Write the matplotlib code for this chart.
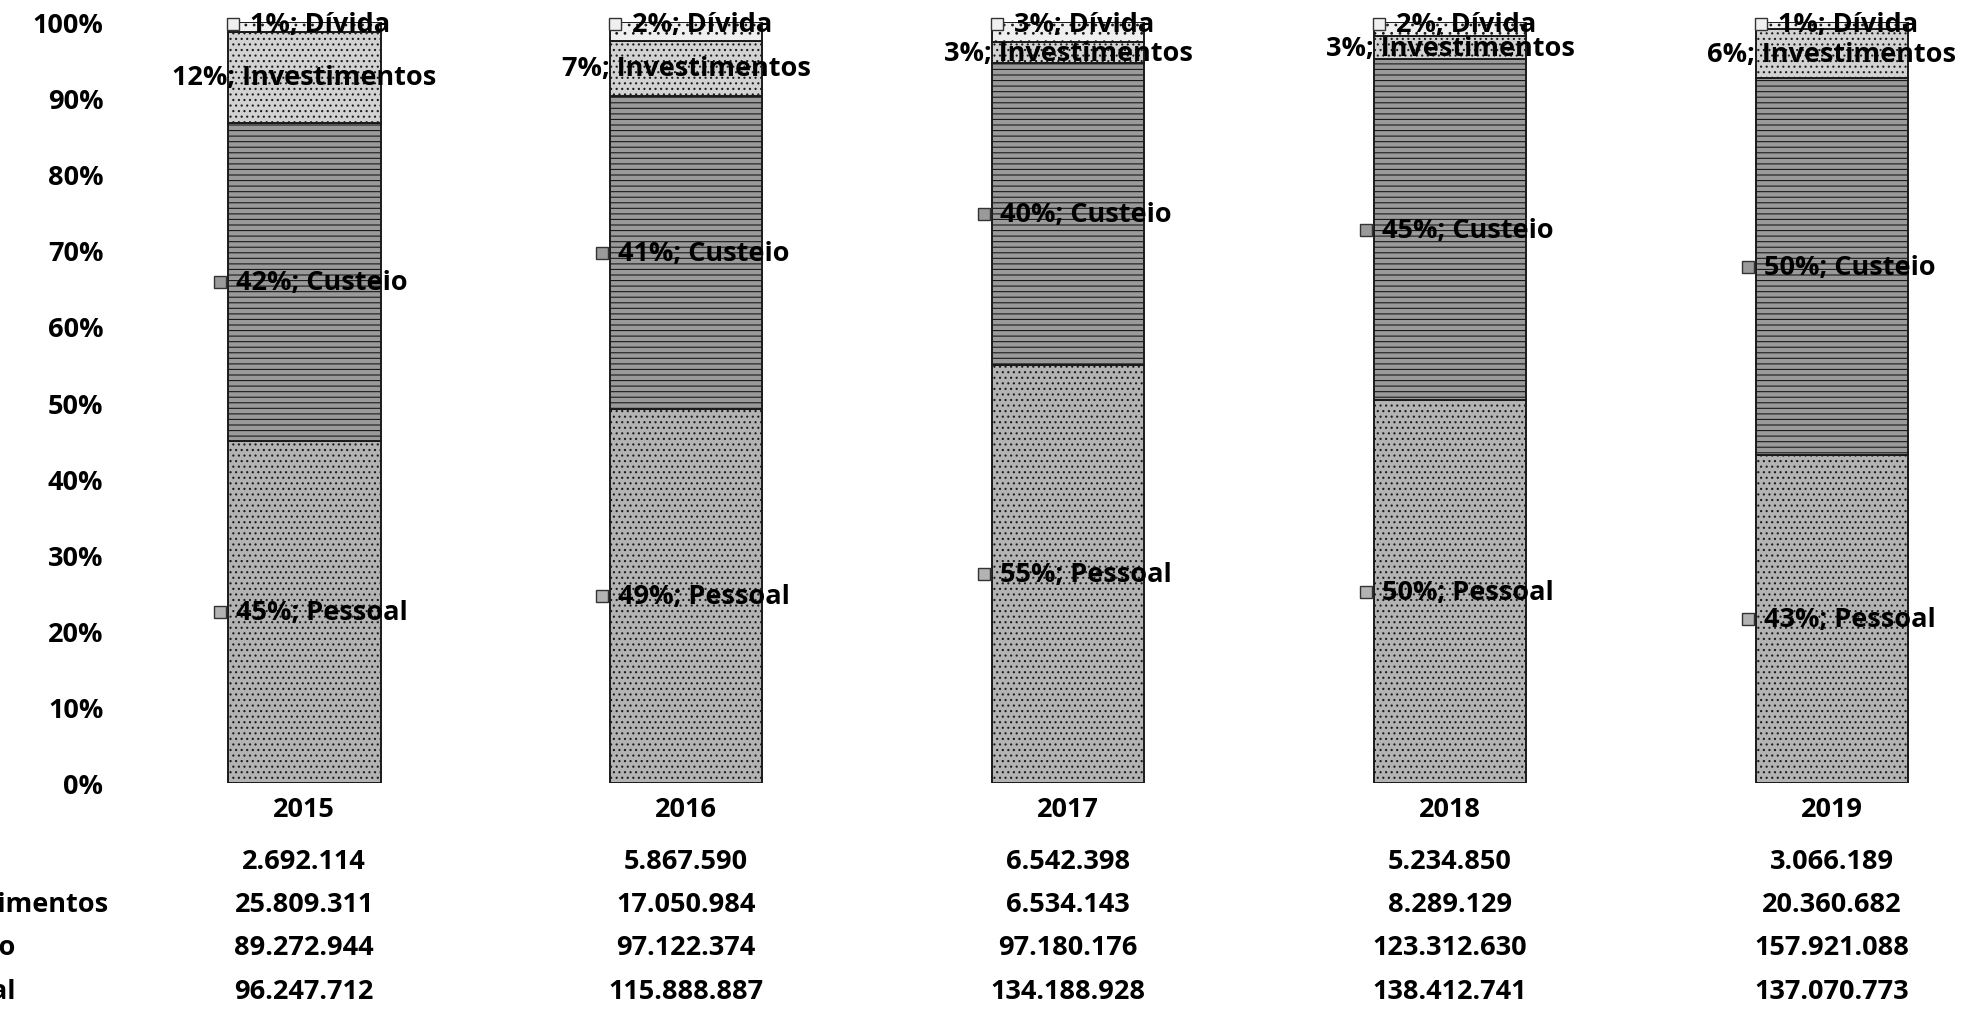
import matplotlib
matplotlib.use("Agg")
import matplotlib.pyplot as plt
import numpy as np

# data
years = ["2015", "2016", "2017", "2018", "2019"]
divida = [2692114, 5867590, 6542398, 5234850, 3066189]
investimentos = [25809311, 17050984, 6534143, 8289129, 20360682]
custeio = [89272944, 97122374, 97180176, 123312630, 157921088]
pessoal = [96247712, 115888887, 134188928, 138412741, 137070773]

row_names = ["Dívida", "Investimentos", "Custeio", "Pessoal"]

plt.rcParams['font.family'] = ['Open Sans', 'DejaVu Sans']
plt.rcParams['font.weight'] = 'bold'
plt.rcParams['hatch.color'] = '#6f6f6f'
plt.rcParams['hatch.linewidth'] = 0.8
FS = 19.5

def fmt(v):
    return f"{v:,}".replace(",", ".")

tot = np.array(divida) + np.array(investimentos) + np.array(custeio) + np.array(pessoal)
p_pes = np.array(pessoal) / tot
p_cus = np.array(custeio) / tot
p_inv = np.array(investimentos) / tot
p_div = np.array(divida) / tot

W, H = 1976, 1012
fig = plt.figure(figsize=(W / 100, H / 100), dpi=100)
ax = fig.add_axes([120 / W, 228 / H, (W - 120) / W, 761 / H])

x = np.arange(len(years))
bw = 0.40
colors = ['#b3b3b3', '#9a9a9a', '#d2d2d2', '#efefef']
hatches = ['...', '---', '...', '..']

bottoms = np.zeros(len(years))
for vals, c, h in zip([p_pes, p_cus, p_inv, p_div], colors, hatches):
    ax.bar(x, vals, bw, bottom=bottoms, color=c, edgecolor='#1a1a1a',
           linewidth=1.4, hatch=h, zorder=2)
    bottoms += vals

ax.set_xlim(-0.482, 4.377)
ax.set_ylim(0, 1)
ticks = np.arange(0, 1.01, 0.1)
ax.set_yticks(ticks)
ax.set_yticklabels([f"{int(round(t * 100))}%" for t in ticks],
                   fontsize=FS, fontweight='bold')
ax.tick_params(axis='y', length=0, pad=12)
ax.set_xticks([])
for s in ax.spines.values():
    s.set_visible(False)

def key(xk, yk, c):
    ax.plot([xk], [yk], marker='s', markersize=9, markerfacecolor=c,
            markeredgecolor='#333333', markeredgewidth=1, clip_on=False, zorder=4)

kx = 8 / 382  # key offset from bar edge in data units
for i in range(len(years)):
    left = x[i] - bw / 2
    # Pessoal
    yp = p_pes[i] / 2
    key(left - kx, yp, colors[0])
    ax.text(left + kx, yp, f"{round(p_pes[i] * 100):.0f}%; Pessoal", fontsize=FS,
            fontweight='bold', va='center', ha='left', zorder=5)
    # Custeio
    yc = p_pes[i] + p_cus[i] / 2
    key(left - kx, yc, colors[1])
    ax.text(left + kx, yc, f"{round(p_cus[i] * 100):.0f}%; Custeio", fontsize=FS,
            fontweight='bold', va='center', ha='left', zorder=5)
    # Investimentos
    yi = p_pes[i] + p_cus[i] + p_inv[i] / 2
    ax.text(x[i], yi, f"{round(p_inv[i] * 100):.0f}%; Investimentos", fontsize=FS,
            fontweight='bold', va='center', ha='center', zorder=5)
    # Divida
    yd = 0.998
    key(left + 5 / 382, yd, colors[3])
    ax.text(left + 22 / 382, yd, f"{round(p_div[i] * 100):.0f}%; Dívida", fontsize=FS,
            fontweight='bold', va='center', ha='left', zorder=5, clip_on=False)

# table under the chart
row_y = [-0.103, -0.159, -0.216, -0.273]
for i in range(len(years)):
    ax.text(x[i], -0.034, years[i], fontsize=FS, fontweight='bold',
            ha='center', va='center', clip_on=False)
    for ry, vals in zip(row_y, [divida, investimentos, custeio, pessoal]):
        ax.text(x[i], ry, fmt(vals[i]), fontsize=FS, fontweight='bold',
                ha='center', va='center', clip_on=False)
for ry, name in zip(row_y, row_names):
    ax.text(-1.02, ry, name, fontsize=FS, fontweight='bold',
            ha='left', va='center', clip_on=False)

fig.savefig("out.png", dpi=100, facecolor='white')
